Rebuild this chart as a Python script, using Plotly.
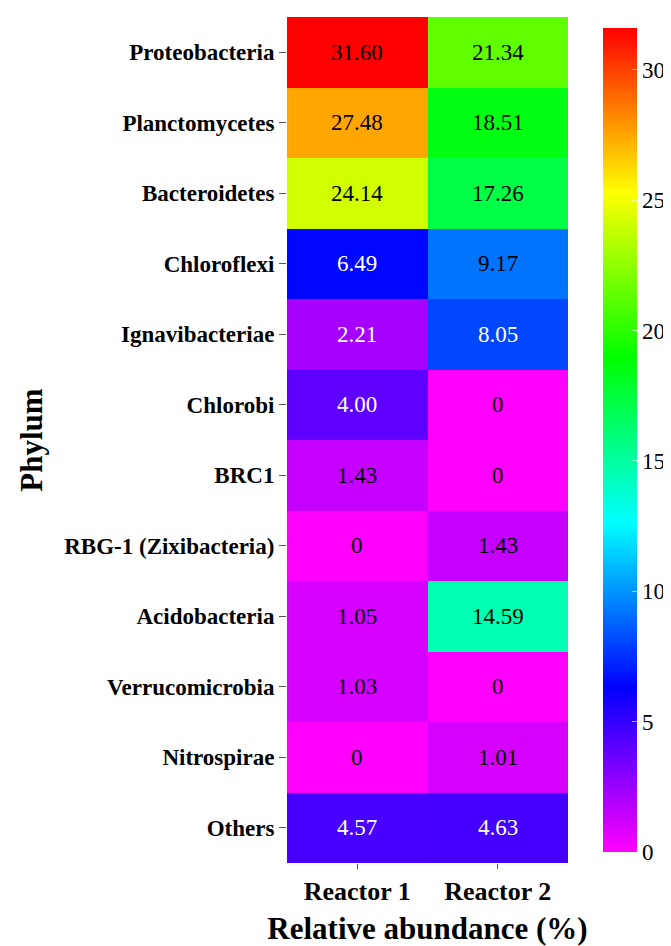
import plotly.graph_objects as go

phyla = ["Proteobacteria", "Planctomycetes", "Bacteroidetes", "Chloroflexi",
         "Ignavibacteriae", "Chlorobi", "BRC1", "RBG-1 (Zixibacteria)",
         "Acidobacteria", "Verrucomicrobia", "Nitrospirae", "Others"]
reactors = ["Reactor 1", "Reactor 2"]
reactor1 = [31.60, 27.48, 24.14, 6.49, 2.21, 4.00, 1.43, 0, 1.05, 1.03, 0, 4.57]
reactor2 = [21.34, 18.51, 17.26, 9.17, 8.05, 0, 0, 1.43, 14.59, 0, 1.01, 4.63]
cbar_ticks = [0, 5, 10, 15, 20, 25, 30]

z = [[a, b] for a, b in zip(reactor1, reactor2)]

# HSV hue ramp: magenta -> blue -> cyan -> green -> yellow -> red
colorscale = [[0.0, "rgb(255,0,255)"], [0.2, "rgb(0,0,255)"], [0.4, "rgb(0,255,255)"],
              [0.6, "rgb(0,255,0)"], [0.8, "rgb(255,255,0)"], [1.0, "rgb(255,0,0)"]]

FONT = "Liberation Serif"

fig = go.Figure(go.Heatmap(
    z=z, x=reactors, y=phyla,
    colorscale=colorscale, zmin=0, zmax=max(reactor1 + reactor2),
    xgap=0, ygap=0,
    colorbar=dict(
        thickness=34, len=844 / 846, lenmode="fraction",
        x=(597 - 279) / 283, xanchor="left", xpad=0, y=0.5, yanchor="middle",
        outlinewidth=0, tickvals=cbar_ticks,
        ticks="inside", ticklen=5, tickcolor="rgba(255,255,255,0.6)",
        tickfont=dict(family=FONT, size=23, color="black"),
    ),
    hoverinfo="skip",
))

def fmt(v):
    return "0" if v == 0 else f"{v:.2f}"

for i, p in enumerate(phyla):
    for j, r in enumerate(reactors):
        v = z[i][j]
        col = "white" if 2 <= v <= 8.5 else "black"
        fig.add_annotation(x=r, y=p, text=fmt(v), showarrow=False,
                           font=dict(family=FONT, size=23, color=col))

fig.update_layout(
    width=671, height=946,
    margin=dict(l=279, r=109, t=9, b=91),
    paper_bgcolor="white", plot_bgcolor="white",
    font=dict(family=FONT),
    xaxis=dict(
        tickfont=dict(family=FONT, size=26, color="black", weight="bold"),
        ticks="outside", ticklen=5, tickcolor="#555",
        showgrid=False, zeroline=False, showline=False,
        title=dict(text="<b>Relative abundance (%)</b>",
                   font=dict(family=FONT, size=31, color="black"), standoff=12),
        automargin=False,
    ),
    yaxis=dict(
        autorange="reversed",
        tickfont=dict(family=FONT, size=23, color="black", weight="bold"),
        ticks="outside", ticklen=7, tickcolor="#555",
        showgrid=False, zeroline=False, showline=False,
        title=dict(text="<b>Phylum</b>",
                   font=dict(family=FONT, size=31, color="black"), standoff=12),
        automargin=False,
    ),
)

fig.write_html("out.html")
